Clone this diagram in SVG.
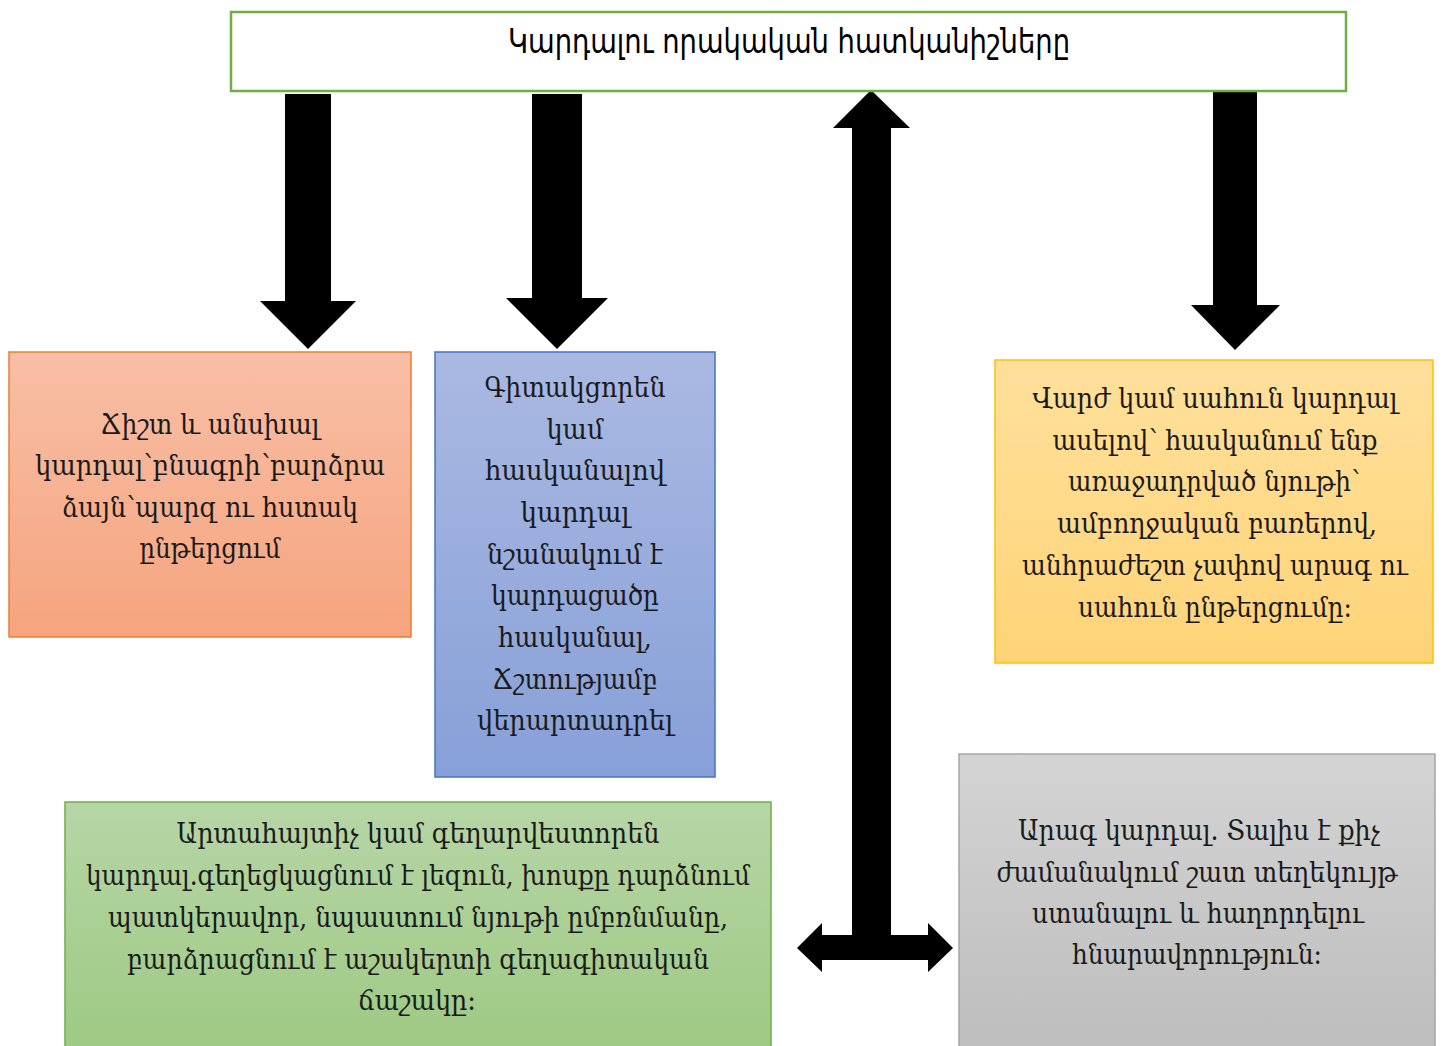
<svg xmlns="http://www.w3.org/2000/svg" width="1442" height="1046" viewBox="0 0 1442 1046">
<defs>
<linearGradient id="gOrange" x1="0" y1="0" x2="0" y2="1"><stop offset="0" stop-color="#f8bfa6"/><stop offset="1" stop-color="#f5a47e"/></linearGradient>
<linearGradient id="gBlue" x1="0" y1="0" x2="0" y2="1"><stop offset="0" stop-color="#aab9e2"/><stop offset="1" stop-color="#87a0d8"/></linearGradient>
<linearGradient id="gYellow" x1="0" y1="0" x2="0" y2="1"><stop offset="0" stop-color="#ffe09c"/><stop offset="1" stop-color="#ffd477"/></linearGradient>
<linearGradient id="gGreen" x1="0" y1="0" x2="0" y2="1"><stop offset="0" stop-color="#b6d6a6"/><stop offset="1" stop-color="#9ec983"/></linearGradient>
<linearGradient id="gGray" x1="0" y1="0" x2="0" y2="1"><stop offset="0" stop-color="#d4d4d4"/><stop offset="1" stop-color="#bdbdbd"/></linearGradient>
</defs>
<style>
.title{font-family:"DejaVu Sans Condensed","DejaVu Sans",sans-serif;font-size:33px;fill:#000;text-anchor:middle}
.body{font-family:"DejaVu Serif","Noto Serif",serif;font-size:27px;fill:#1a1a1a;text-anchor:middle}
.arrow{fill:#000}
</style>
<rect width="1442" height="1046" fill="#ffffff"/>

<g id="connectors">
<path class="arrow" d="M285 94 H331 V301 H356 L308 349 L260 301 H285 Z"/>
<path class="arrow" d="M532 94 H582 V298 H608 L557 349 L506 298 H532 Z"/>
<path class="arrow" d="M1213 91 H1257 V305 H1280 L1235 350 L1191 305 H1213 Z"/>
<path class="arrow" d="M871 90 L910 128 H891 V935 H852 V128 H833 Z"/>
<path class="arrow" d="M797 948 L822 923 V935 H928 V923 L953 948 L928 972 V960 H822 V972 Z"/>
</g>

<g id="title">
<rect x="231" y="12" width="1115" height="79" fill="#ffffff" stroke="#70ad47" stroke-width="2.5"/>
<text class="title" x="789" y="53" textLength="562" lengthAdjust="spacingAndGlyphs">Կարդալու որակական հատկանիշները</text>
</g>

<g id="node-orange">
<rect x="9" y="352" width="402" height="285" fill="url(#gOrange)" stroke="#ed7d31" stroke-width="1.5"/>
<text class="body" x="210" y="434" textLength="219" lengthAdjust="spacingAndGlyphs">Ճիշտ և անսխալ</text>
<text class="body" x="210" y="475" textLength="350" lengthAdjust="spacingAndGlyphs">կարդալ՝բնագրի՝բարձրա</text>
<text class="body" x="210" y="517" textLength="296" lengthAdjust="spacingAndGlyphs">ձայն՝պարզ ու հստակ</text>
<text class="body" x="210" y="558" textLength="141" lengthAdjust="spacingAndGlyphs">ընթերցում</text>
</g>

<g id="node-blue">
<rect x="435" y="352" width="280" height="425" fill="url(#gBlue)" stroke="#4472c4" stroke-width="1.5"/>
<text class="body" x="575" y="397" textLength="181" lengthAdjust="spacingAndGlyphs">Գիտակցորեն</text>
<text class="body" x="575" y="439" textLength="57" lengthAdjust="spacingAndGlyphs">կամ</text>
<text class="body" x="575" y="480" textLength="180" lengthAdjust="spacingAndGlyphs">հասկանալով</text>
<text class="body" x="575" y="522" textLength="109" lengthAdjust="spacingAndGlyphs">կարդալ</text>
<text class="body" x="575" y="564" textLength="176" lengthAdjust="spacingAndGlyphs">նշանակում է</text>
<text class="body" x="575" y="605" textLength="168" lengthAdjust="spacingAndGlyphs">կարդացածը</text>
<text class="body" x="575" y="647" textLength="154" lengthAdjust="spacingAndGlyphs">հասկանալ,</text>
<text class="body" x="575" y="689" textLength="165" lengthAdjust="spacingAndGlyphs">Ճշտությամբ</text>
<text class="body" x="575" y="730" textLength="196" lengthAdjust="spacingAndGlyphs">վերարտադրել</text>
</g>

<g id="node-yellow">
<rect x="995" y="360" width="438" height="303" fill="url(#gYellow)" stroke="#ffc000" stroke-width="1.5"/>
<text class="body" x="1215" y="408" textLength="365" lengthAdjust="spacingAndGlyphs">Վարժ կամ սահուն կարդալ</text>
<text class="body" x="1215" y="450" textLength="325" lengthAdjust="spacingAndGlyphs">ասելով՝ հասկանում ենք</text>
<text class="body" x="1214" y="491" textLength="292" lengthAdjust="spacingAndGlyphs">առաջադրված նյութի՝</text>
<text class="body" x="1217" y="533" textLength="320" lengthAdjust="spacingAndGlyphs">ամբողջական բառերով,</text>
<text class="body" x="1215" y="575" textLength="386" lengthAdjust="spacingAndGlyphs">անհրաժեշտ չափով արագ ու</text>
<text class="body" x="1215" y="617" textLength="274" lengthAdjust="spacingAndGlyphs">սահուն ընթերցումը։</text>
</g>

<g id="node-green">
<rect x="65" y="802" width="706" height="250" fill="url(#gGreen)" stroke="#70ad47" stroke-width="1.5"/>
<text class="body" x="418" y="843" textLength="483" lengthAdjust="spacingAndGlyphs">Արտահայտիչ կամ գեղարվեստորեն</text>
<text class="body" x="418" y="885" textLength="664" lengthAdjust="spacingAndGlyphs">կարդալ.գեղեցկացնում է լեզուն, խոսքը դարձնում</text>
<text class="body" x="418" y="927" textLength="620" lengthAdjust="spacingAndGlyphs">պատկերավոր, նպաստում նյութի ըմբռնմանը,</text>
<text class="body" x="418" y="969" textLength="582" lengthAdjust="spacingAndGlyphs">բարձրացնում է աշակերտի գեղագիտական</text>
<text class="body" x="417" y="1010" textLength="118" lengthAdjust="spacingAndGlyphs">ճաշակը։</text>
</g>

<g id="node-gray">
<rect x="959" y="754" width="476" height="298" fill="url(#gGray)" stroke="#a5a5a5" stroke-width="1.5"/>
<text class="body" x="1199" y="840" textLength="362" lengthAdjust="spacingAndGlyphs">Արագ կարդալ. Տալիս է քիչ</text>
<text class="body" x="1197" y="882" textLength="401" lengthAdjust="spacingAndGlyphs">ժամանակում շատ տեղեկույթ</text>
<text class="body" x="1198" y="923" textLength="332" lengthAdjust="spacingAndGlyphs">ստանալու և հաղորդելու</text>
<text class="body" x="1197" y="964" textLength="250" lengthAdjust="spacingAndGlyphs">հնարավորություն։</text>
</g>
</svg>
